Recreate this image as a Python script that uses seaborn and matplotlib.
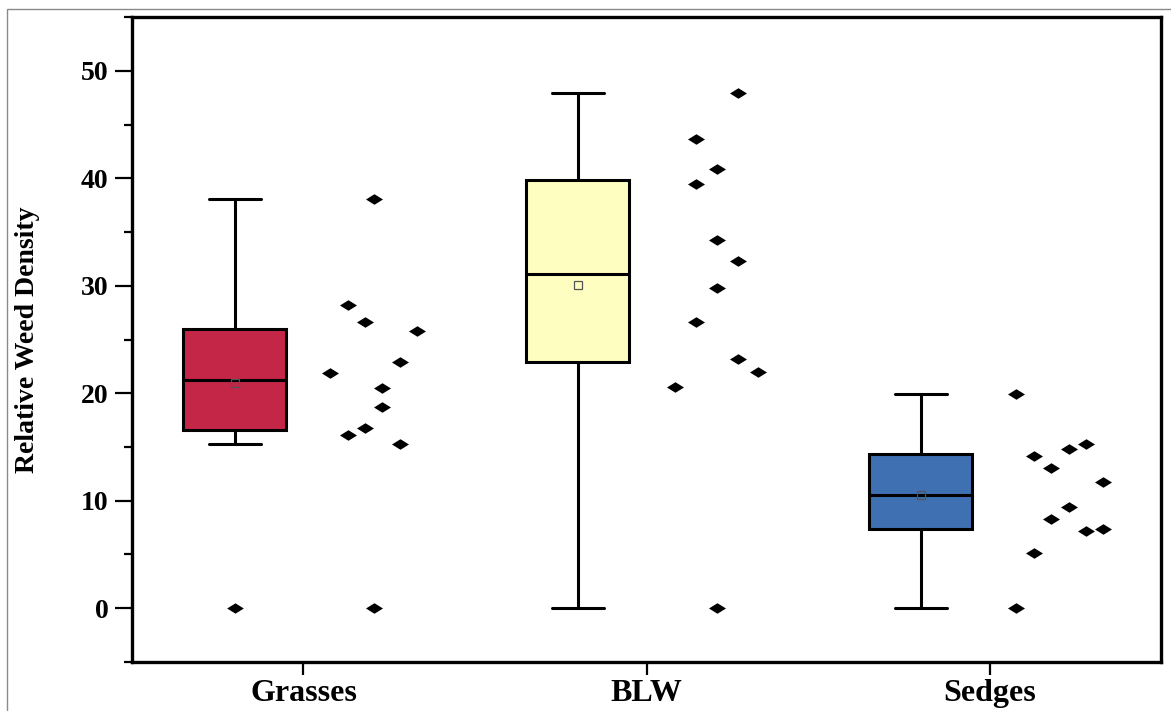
import numpy as np
import pandas as pd
import matplotlib
matplotlib.use("Agg")
import matplotlib.pyplot as plt
from matplotlib.path import Path
from matplotlib.patches import Rectangle
from matplotlib.ticker import MultipleLocator
import seaborn as sns

# --- Data ---
categories = ["Grasses", "BLW", "Sedges"]
grasses = [38.1, 28.2, 26.6, 25.8, 21.9, 22.9, 20.5, 18.7, 16.8, 16.1, 15.3, 0.0]
blw = [47.9, 43.7, 40.9, 39.5, 34.3, 32.3, 29.8, 26.6, 23.2, 22.0, 20.6, 0.0]
sedges = [19.9, 15.3, 14.8, 14.2, 13.0, 11.7, 9.4, 8.3, 7.4, 7.2, 5.1, 0.0]
# horizontal lane of each dot in the jittered point cloud
grasses_lane = [0, -3, -1, 5, -5, 3, 1, 1, -1, -3, 3, 0]
blw_lane = [2.4, -2.4, 0, -2.4, 0, 2.4, 0, -2.4, 2.4, 4.8, -4.8, 0]
sedges_lane = [-5, 3, 1, -3, -1, 5, 1, -1, 5, 3, -3, -5]

colors = ["#C42648", "#FEFEC0", "#3F70B2"]

values = [grasses, blw, sedges]
lanes = [grasses_lane, blw_lane, sedges_lane]
df = pd.DataFrame({
    "group": np.repeat(categories, [len(v) for v in values]),
    "code": np.repeat(np.arange(len(categories)), [len(v) for v in values]),
    "value": np.concatenate(values),
    "lane": np.concatenate(lanes),
})
df["box_x"] = df["code"] - 0.2
df["dot_x"] = df["code"] + 0.205 + df["lane"] * 0.0253

# wide diamond marker
diamond = Path([(-1, 0), (0, 0.62), (1, 0), (0, -0.62), (-1, 0)],
               [Path.MOVETO, Path.LINETO, Path.LINETO, Path.LINETO, Path.CLOSEPOLY])

sns.set_style("white")
plt.rcParams["font.family"] = ["Liberation Serif", "DejaVu Serif"]
plt.rcParams["font.weight"] = "bold"
plt.rcParams["text.color"] = "black"
plt.rcParams["xtick.color"] = "black"
plt.rcParams["ytick.color"] = "black"
plt.rcParams["axes.labelcolor"] = "black"

fig = plt.figure(figsize=(11.71, 7.11), dpi=100)
ax = fig.add_axes([0.1127, 0.069, 0.8788, 0.907])

lw = 2.2
sns.boxplot(data=df, x="box_x", y="value", hue="group", hue_order=categories,
            palette=colors, native_scale=True, width=0.3, legend=False,
            linecolor="black", linewidth=lw, saturation=1, ax=ax,
            showmeans=True,
            meanprops=dict(marker="s", markerfacecolor="none",
                           markeredgecolor="#555555", markersize=5.5,
                           markeredgewidth=0.9),
            flierprops=dict(marker=diamond, markerfacecolor="black",
                            markeredgecolor="black", markersize=12,
                            markeredgewidth=0),
            medianprops=dict(color="black", linewidth=lw),
            whiskerprops=dict(color="black", linewidth=lw),
            capprops=dict(color="black", linewidth=lw))

sns.scatterplot(data=df, x="dot_x", y="value", color="black", marker=diamond,
                s=150, edgecolor="black", linewidth=0, legend=False, ax=ax)

ax.set_xlim(-0.5, 2.5)
ax.set_ylim(-5, 55)
ax.set_xticks(range(len(categories)))
ax.set_xticklabels(categories, fontsize=23, fontweight="bold")
ax.yaxis.set_major_locator(MultipleLocator(10))
ax.yaxis.set_minor_locator(MultipleLocator(5))
ax.set_yticks([0, 10, 20, 30, 40, 50])
for lab in ax.get_yticklabels():
    lab.set_fontsize(20)
    lab.set_fontweight("bold")
ax.tick_params(axis="y", which="major", direction="out", length=12, width=1.6,
               pad=5, left=True)
ax.tick_params(axis="y", which="minor", direction="out", length=6, width=1.6,
               left=True)
ax.tick_params(axis="x", which="major", direction="out", length=9, width=1.6,
               pad=3, bottom=True)
ax.set_xlabel("")
ax.set_ylabel("Relative Weed Density", fontsize=20, fontweight="bold")
ax.yaxis.set_label_coords(-0.089, 0.5)

for sp in ax.spines.values():
    sp.set_visible(True)
    sp.set_color("black")
    sp.set_linewidth(2.4)

# thin grey frame around the figure
fig.patches.append(Rectangle((7 / 1171, -0.1), 1.2, 1.1 - 9 / 711,
                             transform=fig.transFigure, fill=False,
                             edgecolor="#8a8a8a", linewidth=1.0))

fig.savefig("out.png", dpi=100)
